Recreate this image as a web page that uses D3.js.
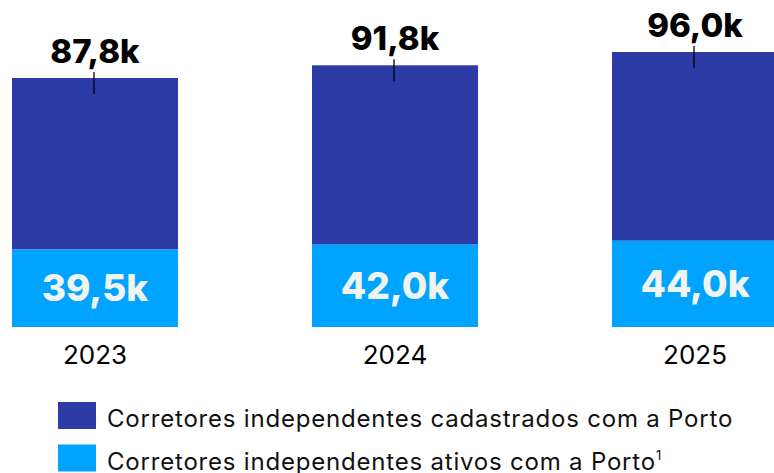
<!DOCTYPE html>
<html><head><meta charset="utf-8">
<script src="https://cdn.jsdelivr.net/npm/d3@7"></script>
<style>html,body{margin:0;padding:0;background:#fff;overflow:hidden}</style>
</head><body>
<svg id="c" width="774" height="473"></svg>
<script>
const years = ["2023", "2024", "2025"];
const totalRegistered = [87.8, 91.8, 96.0];
const activeBrokers = [39.5, 42.0, 44.0];
const totalLabels = ["87,8k", "91,8k", "96,0k"];
const activeLabels = ["39,5k", "42,0k", "44,0k"];
const legendLabels = ["Corretores independentes cadastrados com a Porto", "Corretores independentes ativos com a Porto"];

const colDark = "#2D3BA7", colLight = "#00A4FF";
const font = "Inter, 'Noto Sans', sans-serif";
const svg = d3.select("#c");

const x = d3.scaleBand().domain(years).range([12, 778]).paddingInner(0.4467).paddingOuter(0);
const baseY = 327;
const yTotal = d3.scaleLinear().domain([0, 100]).range([356.4, 39.3]);
const yActive = d3.scaleLinear().domain([0, 50]).range([baseY, 229]);

const data = years.map((y, i) => ({year: y, total: totalRegistered[i], active: activeBrokers[i], tl: totalLabels[i], al: activeLabels[i]}));

const g = svg.append("g");
g.selectAll("rect.dark").data(data).join("rect").attr("class","dark")
  .attr("x", d => x(d.year)).attr("width", x.bandwidth())
  .attr("y", d => yTotal(d.total)).attr("height", d => yActive(d.active) - yTotal(d.total))
  .attr("fill", colDark);
g.selectAll("rect.light").data(data).join("rect").attr("class","light")
  .attr("x", d => x(d.year)).attr("width", x.bandwidth())
  .attr("y", d => yActive(d.active)).attr("height", d => baseY - yActive(d.active))
  .attr("fill", colLight);

const cx = d => x(d.year) + x.bandwidth()/2;
g.selectAll("line.tk").data(data).join("line").attr("class","tk")
  .attr("x1", d => cx(d) - 1).attr("x2", d => cx(d) - 1)
  .attr("y1", d => yTotal(d.total) - 6).attr("y2", d => yTotal(d.total) + 16)
  .attr("stroke", "#000").attr("stroke-width", 1.3);
g.selectAll("text.tl").data(data).join("text").attr("class","tl")
  .attr("x", d => cx(d)).attr("y", d => yTotal(d.total) - 15)
  .attr("text-anchor","middle").attr("font-family", font).attr("font-weight", 800)
  .attr("font-size", 33).attr("fill", "#000").text(d => d.tl);
g.selectAll("text.al").data(data).join("text").attr("class","al")
  .attr("x", d => cx(d)).attr("y", d => (yActive(d.active) + baseY)/2 + 13)
  .attr("text-anchor","middle").attr("font-family", font).attr("font-weight", 800)
  .attr("font-size", 37).attr("fill", "#F0F4F0").text(d => d.al);

const xAxis = svg.append("g").attr("transform", `translate(0,${baseY})`)
  .call(d3.axisBottom(x).tickSize(0).tickPadding(37));
xAxis.select(".domain").remove();
xAxis.selectAll("text").attr("font-family", font).attr("font-size", 26).attr("fill", "#000").attr("dy", 0).attr("dx", 0);

const leg = svg.append("g");
const legColors = [colDark, colLight];
legendLabels.forEach((t, i) => {
  const yy = 402 + i * 42.5;
  leg.append("rect").attr("x", 58).attr("y", yy).attr("width", 38).attr("height", 27).attr("fill", legColors[i]);
  const tx = leg.append("text").attr("x", 107).attr("y", yy + 25).attr("font-family", font)
    .attr("font-size", 24).style("letter-spacing", "0.8px").attr("fill", "#111").text(t);
  if (i === 1) tx.append("tspan").attr("font-size", 13).attr("dy", -10).attr("dx", 0).text("1");
});
</script>
</body></html>
